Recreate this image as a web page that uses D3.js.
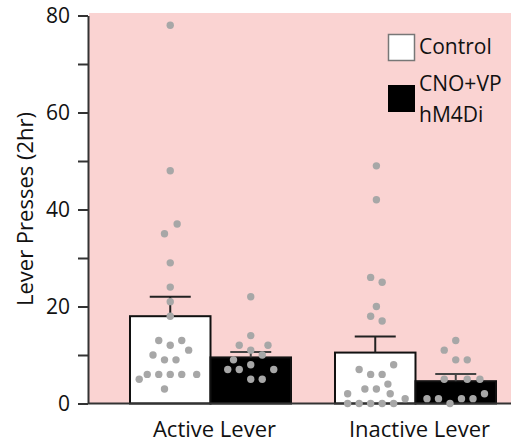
<!DOCTYPE html>
<html>
<head>
<meta charset="utf-8">
<script src="https://cdn.jsdelivr.net/npm/d3@7"></script>
<style>
  html, body { margin: 0; padding: 0; background: #fff; }
  svg { display: block; font-family: "Open Sans", sans-serif; }
</style>
</head>
<body>
<div id="chart"></div>
<script>
// categories and series
const groups = ['Active Lever', 'Inactive Lever'];
const series = ['Control', 'CNO+VP'];
const yTicks = [0, 20, 40, 60, 80];
const yMinorTicks = [10, 30, 50, 70];

// bar heights (mean) and upward error (SEM)
const controlMean = [18, 10.5];
const controlSem = [4, 3.3];
const cnoMean = [9.5, 4.6];
const cnoSem = [1.1, 1.5];

// individual animals: values and horizontal swarm slot
const activeControlDots = [78, 48, 37, 35, 29, 24, 21, 18, 13, 12, 13, 11, 10, 9, 9, 6, 6, 6, 6, 6, 5, 3];
const activeControlSlot = [0, 0, 0.6, -0.5, 0, 0, 0, 0, -1, 0, 1, 1.6, -1.5, -0.5, 0.5, -2, -1, 0, 1, 2.3, -2.7, -0.5];
const activeCnoDots = [22, 14, 12, 12, 11, 10, 9, 8, 7, 7, 7, 5, 5];
const activeCnoSlot = [0, 0, -1, 1.5, 0, 1, -1.5, 0, -2, -1, 2, 0, 1];
const inactiveControlDots = [49, 42, 26, 25, 20, 18, 17, 8, 7, 6, 6, 4, 3, 3, 2, 2, 1, 0, 0, 0, 0, 0];
const inactiveControlSlot = [0.1, 0.1, -0.4, 0.6, 0.1, -0.4, 0.6, 1.6, -1.4, -0.4, 0.6, 1.1, -0.9, 0.1, -2.4, 1.3, 2.6, -2.4, -1.4, -0.4, 0.6, 1.6];
const inactiveCnoDots = [13, 11, 9, 9, 5, 5, 5, 2, 1, 1, 1, 1, 0];
const inactiveCnoSlot = [0, -1, 0, 1, -1, 1, 2.1, 2.5, -2.5, -1.5, 0.5, 1.5, -0.5];

const means = [controlMean, cnoMean];
const sems = [controlSem, cnoSem];
const dots = [[activeControlDots, activeCnoDots], [inactiveControlDots, inactiveCnoDots]];
const slots = [[activeControlSlot, activeCnoSlot], [inactiveControlSlot, inactiveCnoSlot]];

const width = 511, height = 445;
const font = '"Open Sans", sans-serif';
const svg = d3.select('#chart').append('svg')
  .attr('width', width)
  .attr('height', height);

const axisX = 88;
const y = d3.scaleLinear().domain([0, 80]).range([403.5, 15.5]);
const x0 = d3.scaleBand().domain(groups).range([109.5, 516.5]).paddingInner(0.2146).paddingOuter(0.1);
const x1 = d3.scaleBand().domain(series).range([0, x0.bandwidth()]);

// pink panel
svg.append('rect')
  .attr('x', axisX + 1).attr('y', 13)
  .attr('width', width - axisX - 1).attr('height', y(0) - 13)
  .attr('fill', '#fad3d2');

// bars
series.forEach(function (s, si) {
  svg.selectAll('.bar' + si)
    .data(groups)
    .enter()
    .append('rect')
    .attr('x', function (g) { return x0(g) + x1(s); })
    .attr('y', function (g, gi) { return y(means[si][gi]); })
    .attr('width', x1.bandwidth())
    .attr('height', function (g, gi) { return y(0) - y(means[si][gi]); })
    .attr('fill', si === 0 ? '#fff' : '#000')
    .attr('stroke', '#111')
    .attr('stroke-width', 2);
});

// error bars (upward only)
const capHalf = 20.5;
series.forEach(function (s, si) {
  groups.forEach(function (g, gi) {
    const cx = x0(g) + x1(s) + x1.bandwidth() / 2;
    const top = y(means[si][gi] + sems[si][gi]);
    const eb = svg.append('g').attr('stroke', si === 0 ? '#222' : '#444').attr('stroke-width', 2);
    eb.append('line').attr('x1', cx).attr('x2', cx).attr('y1', y(means[si][gi])).attr('y2', top);
    eb.append('line').attr('x1', cx - capHalf).attr('x2', cx + capHalf).attr('y1', top).attr('y2', top);
  });
});

// x axis baseline
svg.append('line')
  .attr('x1', axisX).attr('x2', width)
  .attr('y1', y(0)).attr('y2', y(0))
  .attr('stroke', '#333').attr('stroke-width', 2);

// y axis
const yAxis = svg.append('g')
  .attr('transform', 'translate(' + axisX + ',0)')
  .call(d3.axisLeft(y).tickValues(yTicks).tickSize(10).tickPadding(8).tickSizeOuter(0));
yAxis.attr('font-family', font).attr('font-size', 21);
yAxis.select('.domain').attr('stroke', '#333').attr('stroke-width', 2);
yAxis.selectAll('.tick line').attr('stroke', '#333').attr('stroke-width', 2);
yAxis.selectAll('.tick text').attr('fill', '#111');
svg.append('g')
  .attr('transform', 'translate(' + axisX + ',0)')
  .call(d3.axisLeft(y).tickValues(yMinorTicks).tickSize(10).tickFormat(''))
  .call(function (g) { g.select('.domain').remove(); })
  .selectAll('.tick line').attr('stroke', '#333').attr('stroke-width', 2);

// dots
const slotW = 11.5;
groups.forEach(function (g, gi) {
  series.forEach(function (s, si) {
    const cx = x0(g) + x1(s) + x1.bandwidth() / 2;
    svg.append('g').selectAll('circle')
      .data(dots[gi][si])
      .enter()
      .append('circle')
      .attr('cx', function (d, i) { return cx + slots[gi][si][i] * slotW; })
      .attr('cy', function (d) { return y(d); })
      .attr('r', 3.7)
      .attr('fill', '#a7a7a7');
  });
});

// x category labels
svg.selectAll('.xlab')
  .data(groups)
  .enter()
  .append('text')
  .attr('x', function (g) { return x0(g) + x0.bandwidth() / 2 + 4; })
  .attr('y', 437)
  .attr('text-anchor', 'middle')
  .attr('font-size', 22)
  .attr('fill', '#111')
  .text(function (g) { return g; });

// y axis label
svg.append('text')
  .attr('transform', 'translate(33,209) rotate(-90)')
  .attr('text-anchor', 'middle')
  .attr('font-size', 22)
  .attr('fill', '#111')
  .text('Lever Presses (2hr)');

// legend
const legend = svg.append('g');
legend.append('rect').attr('x', 388.5).attr('y', 34.5).attr('width', 26).attr('height', 26)
  .attr('fill', '#fff').attr('stroke', '#777').attr('stroke-width', 1.5);
legend.append('rect').attr('x', 388).attr('y', 85).attr('width', 27).attr('height', 27)
  .attr('fill', '#000');
legend.append('text').attr('x', 419).attr('y', 54).attr('font-size', 21).attr('fill', '#111').text('Control');
legend.append('text').attr('x', 419).attr('y', 91).attr('font-size', 21).attr('fill', '#111').text('CNO+VP');
legend.append('text').attr('x', 419).attr('y', 122).attr('font-size', 21).attr('fill', '#111').text('hM4Di');
</script>
</body>
</html>
